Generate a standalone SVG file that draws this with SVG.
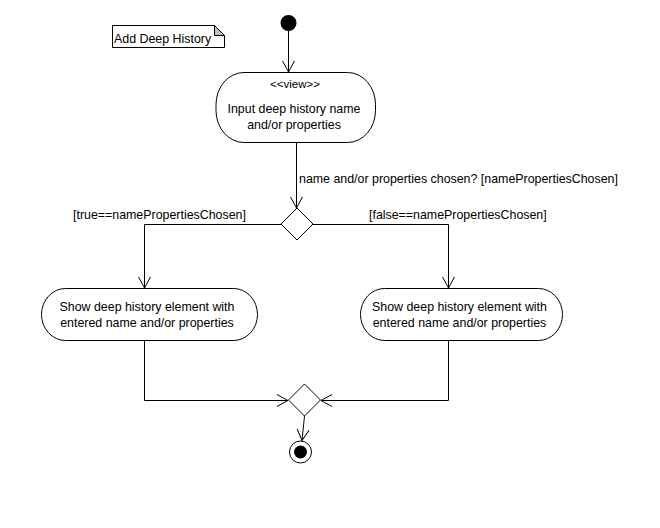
<svg xmlns="http://www.w3.org/2000/svg" width="660" height="528" viewBox="0 0 660 528">
<style>
text{font-family:"Liberation Sans",Arial,sans-serif;font-size:12.4px;fill:#000}
.small{font-size:11.5px}
.mid{text-anchor:middle}
.shape{fill:#fff;stroke:#000;stroke-width:1}
.edge{fill:none;stroke:#000;stroke-width:1}
</style>
<defs>
<marker id="arr" markerUnits="userSpaceOnUse" markerWidth="14" markerHeight="14" viewBox="-12 -7 14 14" refX="0" refY="0" orient="auto">
<path d="M-11,-6 L0,0 L-11,6" fill="none" stroke="#000" stroke-width="1"/>
</marker>
</defs>
<rect width="660" height="528" fill="#fff"/>
<g id="note">
<path class="shape" d="M112.5,25.5 H214.5 L224.5,35.5 V47.5 H112.5 Z"/>
<path d="M214.5,25.5 V35.5 H224.5 Z" fill="#c0c0c0" stroke="#000"/>
<text x="114" y="43">Add Deep History</text>
</g>
<g id="start">
<circle cx="288.5" cy="23" r="8" fill="#000"/>
</g>
<g id="input">
<rect class="shape" x="216" y="72.5" width="159.5" height="70" rx="28" ry="32"/>
<text class="small mid" x="295" y="88">&lt;&lt;view&gt;&gt;</text>
<text class="mid" x="294" y="113">Input deep history name</text>
<text class="mid" x="294" y="129">and/or properties</text>
</g>
<g id="decision">
<path class="shape" d="M297,208 L313,224 L297,240 L281,224 Z"/>
</g>
<g id="showTrue">
<rect class="shape" x="41.5" y="288.5" width="216" height="52" rx="24" ry="26"/>
<text class="mid" x="147" y="311">Show deep history element with</text>
<text class="mid" x="147" y="327">entered name and/or properties</text>
</g>
<g id="showFalse">
<rect class="shape" x="360.5" y="288.5" width="202" height="52" rx="24" ry="26"/>
<text class="mid" x="459.5" y="311">Show deep history element with</text>
<text class="mid" x="459.5" y="327">entered name and/or properties</text>
</g>
<g id="merge">
<path class="shape" d="M304.5,384 L320.5,400 L304.5,416 L288.5,400 Z"/>
</g>
<g id="end">
<circle cx="300.5" cy="452" r="11" fill="#fff" stroke="#000" stroke-width="1"/>
<circle cx="300.5" cy="452" r="6.5" fill="#000"/>
</g>
<g id="connectors">
<path class="edge" d="M288.5,31 V72" marker-end="url(#arr)"/>
<path class="edge" d="M296.5,143 V208" marker-end="url(#arr)"/>
<text x="299" y="183">name and/or properties chosen? [namePropertiesChosen]</text>
<path class="edge" d="M281,224.5 H144.5 V288" marker-end="url(#arr)"/>
<text x="73" y="219">[true==namePropertiesChosen]</text>
<path class="edge" d="M313,224.5 H448.5 V288" marker-end="url(#arr)"/>
<text x="369" y="219">[false==namePropertiesChosen]</text>
<path class="edge" d="M144.5,341 V400.5 H288" marker-end="url(#arr)"/>
<path class="edge" d="M448.5,341 V400.5 H321" marker-end="url(#arr)"/>
<path class="edge" d="M304.5,416 L302,440.5" marker-end="url(#arr)"/>
</g>
</svg>
